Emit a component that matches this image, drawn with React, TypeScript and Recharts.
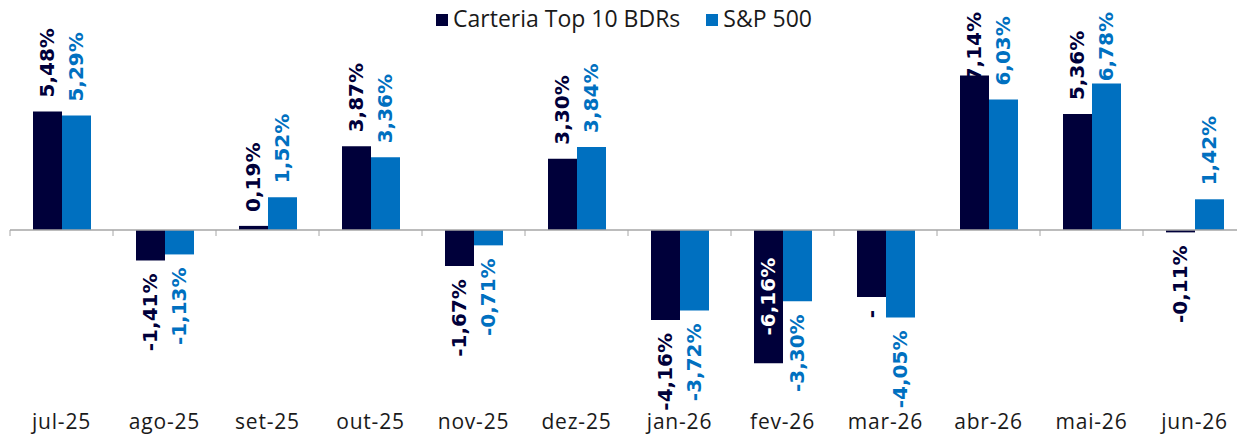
import { BarChart, Bar, XAxis, YAxis, Legend, ReferenceLine, LabelList } from "recharts"

const months = ["jul-25", "ago-25", "set-25", "out-25", "nov-25", "dez-25", "jan-26", "fev-26", "mar-26", "abr-26", "mai-26", "jun-26"]
const carteira = [5.48, -1.41, 0.19, 3.87, -1.67, 3.3, -4.16, -6.16, -3.1, 7.14, 5.36, -0.11]
const sp500 = [5.29, -1.13, 1.52, 3.36, -0.71, 3.84, -3.72, -3.3, -4.05, 6.03, 6.78, 1.42]
// the mar-26 label of the portfolio is cut off in the original, only the "-" shows
const carteiraLabelOverride: Record<string, string> = { "mar-26": "-" }

const DARK = "#00003a"
const BLUE = "#0070c0"
const LABEL_FONT = "'DejaVu Sans', sans-serif"
const LABEL_SIZE = 20
const TEXT_FONT = "'Open Sans', sans-serif"

const fmt = (v: number) => v.toFixed(2).replace(".", ",") + "%"

const data = months.map((m, i) => ({
  month: m,
  carteira: carteira[i],
  sp500: sp500[i],
  carteiraLabel: carteiraLabelOverride[m] ?? fmt(carteira[i]),
  sp500Label: fmt(sp500[i]),
}))

// rough width of a label in DejaVu Sans Bold
function textLen(t: string) {
  let w = 0
  for (const c of t) {
    if (c >= "0" && c <= "9") w += 0.696
    else if (c === ",") w += 0.38
    else if (c === "%") w += 1.0
    else w += 0.415
  }
  return w * LABEL_SIZE
}

function makeLabel(color: string) {
  return (props: any) => {
    const { x, y, width, height, value } = props
    if (value == null) return null
    const text = String(value)
    const cx = Number(x) + Number(width) / 2
    const top = Math.min(Number(y), Number(y) + Number(height))
    const bottom = Math.max(Number(y), Number(y) + Number(height))
    const len = textLen(text)
    const positive = !text.startsWith("-")
    const common = {
      fontFamily: LABEL_FONT,
      fontSize: LABEL_SIZE,
      fontWeight: 700,
      dominantBaseline: "central" as const,
    }
    if (positive) {
      // keep the label inside the picture: push it down when it would run off the top
      const sy = Math.max(top - 14, 12 + len)
      return (
        <text {...common} x={cx} y={sy} fill={color} textAnchor="start" transform={`rotate(-90, ${cx}, ${sy})`}>
          {text}
        </text>
      )
    }
    const ey = bottom + 13
    if (ey + len > 434) {
      const my = (top + bottom) / 2
      return (
        <text {...common} x={cx} y={my} fill="#ffffff" textAnchor="middle" transform={`rotate(-90, ${cx}, ${my})`}>
          {text}
        </text>
      )
    }
    return (
      <text {...common} x={cx} y={ey} fill={color} textAnchor="end" transform={`rotate(-90, ${cx}, ${ey})`}>
        {text}
      </text>
    )
  }
}

function ZeroAxis(props: any) {
  const { x1, x2, y1 } = props
  const step = (x2 - x1) / months.length
  return (
    <g>
      <line x1={x1} x2={x2} y1={y1} y2={y1} stroke="#a6a6a6" strokeWidth={1.5} />
      {months.map((_, i) => (
        <line key={i} x1={x1 + i * step} x2={x1 + i * step} y1={y1} y2={y1 + 6} stroke="#a6a6a6" strokeWidth={1} />
      ))}
    </g>
  )
}

function LegendBox() {
  const item = (color: string, label: string, gap: number) => (
    <div style={{ display: "flex", alignItems: "center", marginRight: gap }}>
      <span style={{ display: "inline-block", width: 12, height: 12, background: color, marginRight: 5, marginTop: 3 }} />
      <span>{label}</span>
    </div>
  )
  return (
    <div
      style={{
        height: 32,
        display: "flex",
        justifyContent: "center",
        alignItems: "flex-start",
        fontFamily: TEXT_FONT,
        fontSize: 23,
        lineHeight: "32px",
        color: "#1a1a1a",
      }}
    >
      {item(DARK, "Carteria Top 10 BDRs", 26)}
      {item(BLUE, "S&P 500", 0)}
    </div>
  )
}

export default function App() {
  return (
    <div style={{ position: "absolute", left: 0, top: 0, width: 1237, height: 436, overflow: "hidden", background: "#fff" }}>
      <BarChart width={1248} height={436} data={data} margin={{ top: 25, right: 2, left: 10, bottom: 0 }} barGap={0} barSize={29}>
        <Legend verticalAlign="top" content={<LegendBox />} wrapperStyle={{ top: 2, left: 0, width: 1248 }} />
        <XAxis
          dataKey="month"
          axisLine={false}
          tickLine={false}
          tickMargin={5}
          height={33}
          interval={0}
          tick={{ fontFamily: TEXT_FONT, fontSize: 21, fill: "#1a1a1a", letterSpacing: 0.8 }}
        />
        <YAxis hide domain={[-8, 8]} />
        <Bar dataKey="carteira" fill={DARK} isAnimationActive={false}>
          <LabelList dataKey="carteiraLabel" content={makeLabel(DARK)} />
        </Bar>
        <Bar dataKey="sp500" fill={BLUE} isAnimationActive={false}>
          <LabelList dataKey="sp500Label" content={makeLabel(BLUE)} />
        </Bar>
        <ReferenceLine y={0} shape={(p: any) => <ZeroAxis {...p} />} />
      </BarChart>
    </div>
  )
}
